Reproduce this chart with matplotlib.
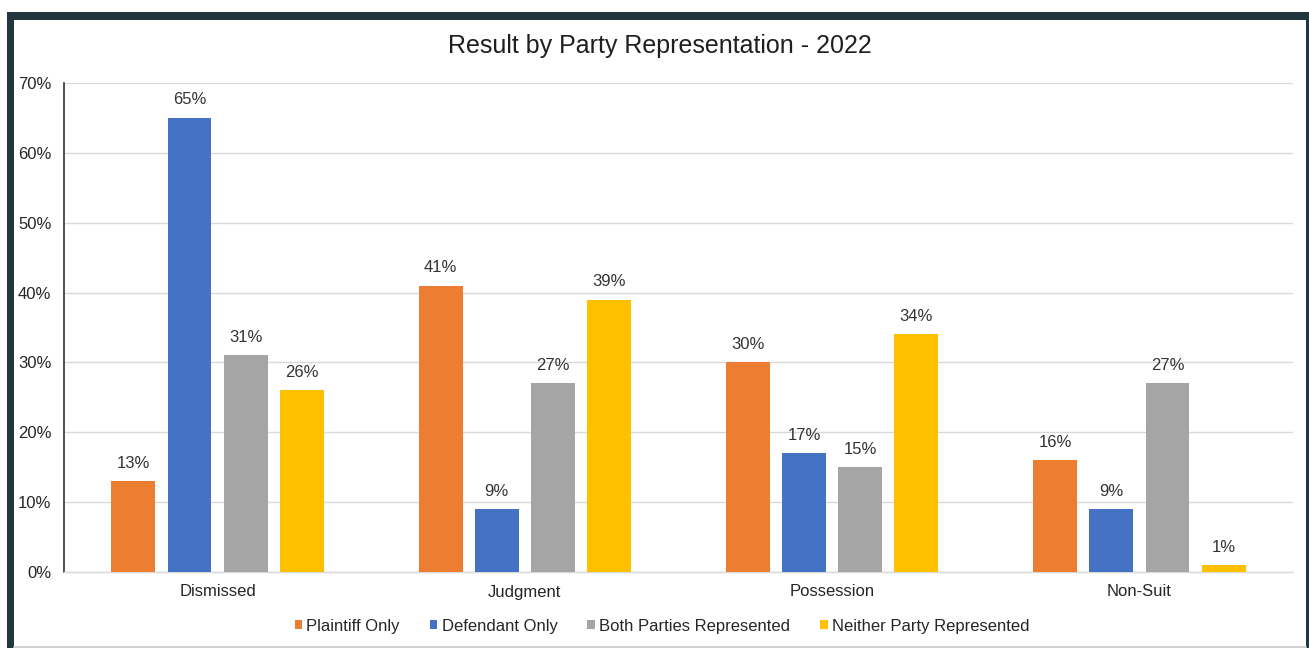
import matplotlib
matplotlib.use("Agg")
import matplotlib.pyplot as plt
from matplotlib.patches import Rectangle
from matplotlib.lines import Line2D
import numpy as np

plt.rcParams['font.family'] = ['Liberation Sans', 'DejaVu Sans']

title = "Result by Party Representation - 2022"
categories = ["Dismissed", "Judgment", "Possession", "Non-Suit"]
series_names = ["Plaintiff Only", "Defendant Only", "Both Parties Represented", "Neither Party Represented"]
plaintiff_only = [13, 41, 30, 16]
defendant_only = [65, 9, 17, 9]
both_parties = [31, 27, 15, 27]
neither_party = [26, 39, 34, 1]
colors = ["#ED7D31", "#4472C4", "#A5A5A5", "#FFC000"]
yticks = [0, 10, 20, 30, 40, 50, 60, 70]

W, H = 1309, 648
fig = plt.figure(figsize=(W / 100, H / 100), dpi=100)
fig.patch.set_facecolor("white")

# dark frame around the chart
frame = "#22363f"
fig.add_artist(Rectangle((7 / W, 0), 7 / W, 1 - 12 / H, transform=fig.transFigure, color=frame, lw=0))
fig.add_artist(Rectangle((7 / W, 1 - 20 / H), (1309 - 7) / W, 8 / H, transform=fig.transFigure, color=frame, lw=0))
fig.add_artist(Rectangle((1306 / W, 0), 3 / W, 1 - 12 / H, transform=fig.transFigure, color=frame, lw=0))
fig.add_artist(Line2D([14 / W, 1306 / W], [1.5 / H, 1.5 / H], transform=fig.transFigure, color="#c8c8c8", lw=1.2))

left, right, top, base = 64, 1293, 83, 572
ax = fig.add_axes([left / W, (H - base) / H, (right - left) / W, (base - top) / H])

data = [plaintiff_only, defendant_only, both_parties, neither_party]
x = np.arange(len(categories))
bw = 0.143
step = 0.183
for i, (vals, name, c) in enumerate(zip(data, series_names, colors)):
    pos = x + (i - 1.5) * step
    bars = ax.bar(pos, vals, width=bw, color=c, label=name, zorder=3)
    for b, v in zip(bars, vals):
        ax.text(b.get_x() + b.get_width() / 2, v + 1.5, f"{v}%", ha="center", va="bottom",
                fontsize=12, color="#333333")

ax.set_xlim(-0.5, len(categories) - 0.5)
ax.set_ylim(0, 70)
ax.set_yticks(yticks)
ax.set_yticklabels([f"{t}%" for t in yticks], fontsize=12, color="#262626")
ax.set_xticks(x)
ax.set_xticklabels(categories, fontsize=12, color="#262626")
ax.tick_params(axis="both", length=0)
ax.tick_params(axis="y", pad=9)
ax.tick_params(axis="x", pad=9)
ax.grid(axis="y", color="#d9d9d9", lw=1, zorder=0)
for s in ["top", "right"]:
    ax.spines[s].set_visible(False)
ax.spines["left"].set_color("#333333")
ax.spines["left"].set_linewidth(1.2)
ax.spines["bottom"].set_color("#d9d9d9")
ax.spines["bottom"].set_linewidth(1)

fig.text(660 / W, 1 - 46 / H, title, ha="center", va="center", fontsize=18, color="#1f1f1f")

leg = fig.legend(loc="center", bbox_to_anchor=(662 / W, 1 - 626 / H), ncol=4, frameon=False,
                 fontsize=12, handlelength=0.45, handleheight=0.45, handletextpad=0.25,
                 columnspacing=1.8)
for t in leg.get_texts():
    t.set_color("#262626")

fig.savefig("out.png", dpi=100, facecolor="white")
